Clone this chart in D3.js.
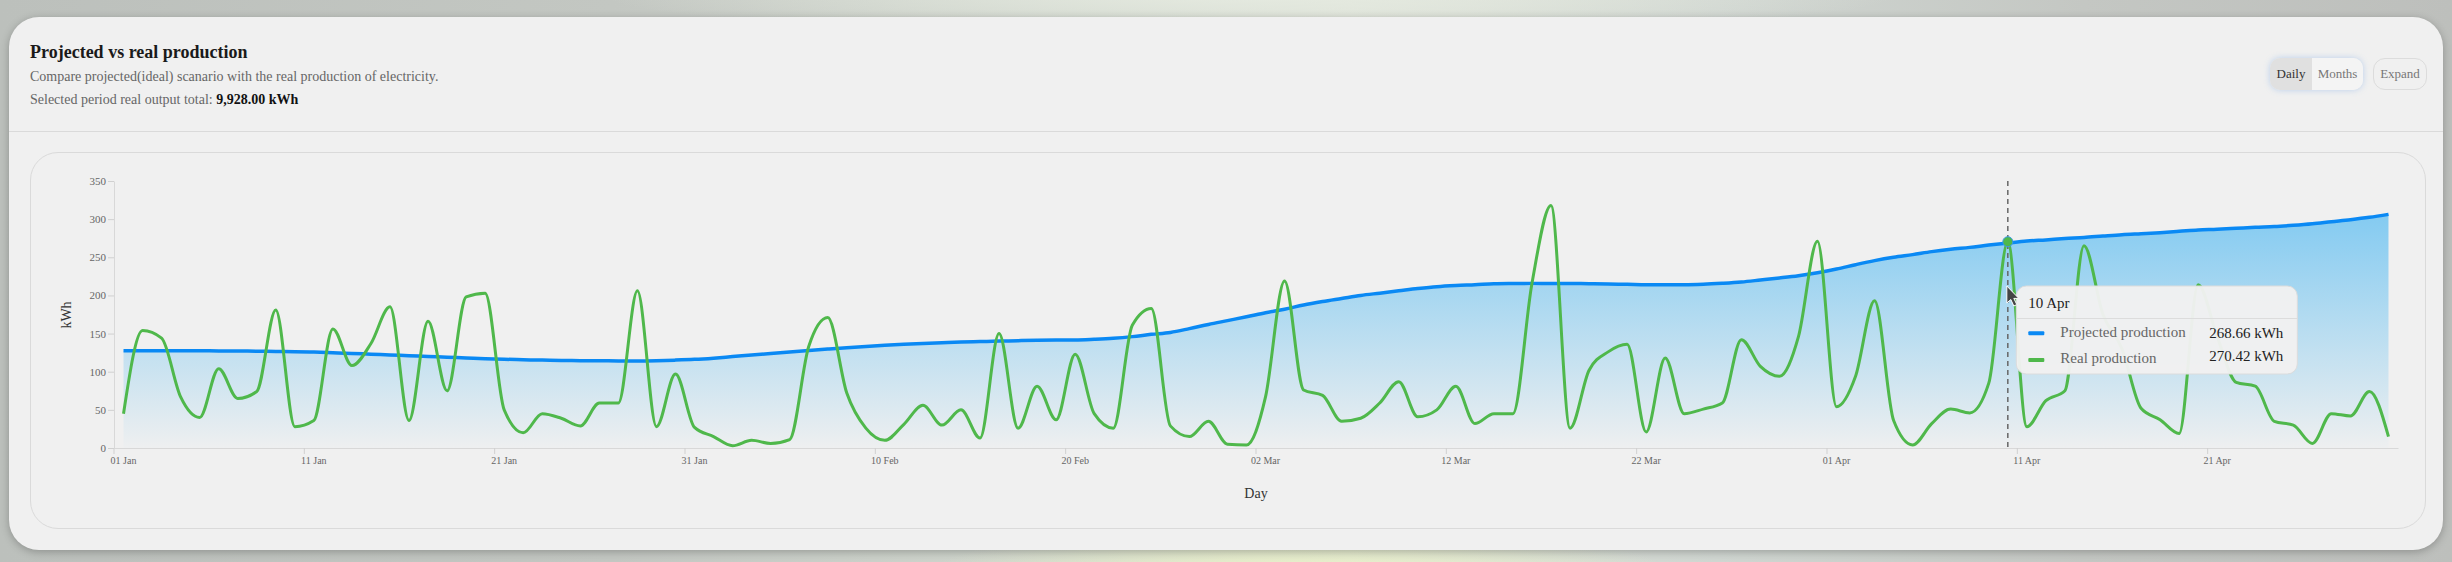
<!DOCTYPE html>
<html>
<head>
<meta charset="utf-8">
<script src="https://cdn.jsdelivr.net/npm/d3@7"></script>
<style>
html, body { margin: 0; padding: 0; }
body {
  width: 2452px; height: 562px; overflow: hidden; position: relative;
  font-family: "Liberation Serif", serif;
  background:
    radial-gradient(ellipse 380px 60px at 1300px 580px, rgba(236,243,196,0.95), rgba(236,243,196,0) 100%),
    radial-gradient(ellipse 650px 40px at 1250px -5px, rgba(230,235,225,0.9), rgba(230,235,225,0)),
    linear-gradient(to right, #bcc0bc 0%, #c3c7c2 25%, #d2d8cf 45%, #dde2d8 55%, #d0d6d1 70%, #c4c7c3 85%, #bdbfbc 100%);
}
.card {
  position: absolute; left: 9px; top: 17px; width: 2434px; height: 533px;
  background: #f0f0f0; border-radius: 30px;
  box-shadow: 0 2px 8px rgba(0,0,0,0.25);
}
.divider { position: absolute; left: 0; right: 0; top: 114px; height: 1px; background: #dadada; }
.inner {
  position: absolute; left: 30px; top: 152px; width: 2394px; height: 375px;
  border: 1px solid #dadada; border-radius: 28px;
}
.seg {
  position: absolute; left: 2270px; top: 58px; width: 93px; height: 32px;
  border-radius: 10px; overflow: hidden; display: flex;
  box-shadow: 0 0 6px rgba(90,150,230,0.35);
  font-size: 13px; line-height: 32px;
}
.seg div { text-align: center; }
.seg .on { width: 42px; background: #e0e0e0; color: #333; }
.seg .off { flex: 1; background: #f4f4f4; color: #777; }
.btn {
  position: absolute; left: 2373px; top: 58px; width: 52px; height: 30px;
  border: 1px solid #dcdcdc; border-radius: 12px; background: #f0f0f0;
  color: #777; font-size: 13px; line-height: 30px; text-align: center;
}
svg { position: absolute; left: 0; top: 0; }
</style>
</head>
<body>
<div class="card"><div class="divider"></div></div>
<div class="inner"></div>
<div class="seg"><div class="on">Daily</div><div class="off">Months</div></div>
<div class="btn">Expand</div>
<svg id="chart" width="2452" height="562"></svg>
<script>
// categories: one per day, 01 Jan - 30 Apr
const days = d3.utcDays(new Date(Date.UTC(2023, 0, 1)), new Date(Date.UTC(2023, 4, 1)));

const projected = [
  127.6, 127.6, 127.5, 127.5, 127.4, 127.3, 127.1, 126.9, 126.6, 126.3,
  125.7, 124.9, 124, 123, 122, 121, 120, 119, 118, 117,
  116.3, 115.7, 115.2, 114.8, 114.5, 114.3, 114.2, 114.2, 114.5, 115.2,
  116.2, 117.8, 119.8, 121.8, 123.8, 125.8, 127.8, 129.7, 131.5, 133.2,
  134.7, 136, 137.1, 138, 138.8, 139.5, 140.1, 140.7, 141.3, 141.5,
  141.6, 142.5, 143.8, 146, 149, 151.5, 156.5, 162, 167, 172,
  177.4, 182, 187.5, 192, 196, 200, 203, 206, 209, 211.5,
  213, 214, 215.2, 215.6, 215.8, 215.8, 215.6, 215.4, 215, 214.6,
  214.1, 214, 214, 214.6, 215.9, 217.6, 220.2, 222.9, 225.9, 229.8,
  234.6, 240.3, 245.6, 250, 253.5, 257.4, 260.5, 263, 266, 268.66,
  271.2, 272.8, 274.6, 276, 277.9, 279.7, 281, 282.3, 284, 285.8,
  286.7, 288, 289.3, 290.2, 291.9, 294, 296.7, 299.3, 302.4, 306.3
];

const real = [
  45, 154, 144, 67, 40, 104, 65, 74, 181, 28,
  36, 156, 108, 137, 185, 36, 166, 75, 198, 203,
  50, 20, 45, 39, 29, 59, 59, 206, 28, 97,
  27, 15, 3, 10, 6, 11, 133, 171, 72, 26,
  10, 31, 56, 30, 50, 13, 150, 26, 81, 37,
  123, 45, 26, 161, 183, 29, 15, 35, 5, 4,
  67, 219, 76, 69, 35, 39, 59, 87, 41, 50,
  81, 32, 45, 45, 216, 318, 26, 102, 126, 136,
  21, 118, 45, 51, 59, 142, 107, 94, 146, 271,
  54, 94, 193, 36, 4, 32, 51, 46, 85, 270.42,
  28, 62, 75, 265, 175, 130, 52, 37, 19, 214,
  146, 86, 81, 35, 30, 6, 45, 42, 74, 15
];

const yTicks = [0, 50, 100, 150, 200, 250, 300, 350];
const xTickEvery = 10;
const seriesNames = ["Projected production", "Real production"];
const seriesColors = ["#0a89f4", "#4fb84b"];
const selectedTotal = "9,928.00 kWh";
const hoverIndex = 99;

const svg = d3.select("#chart");
const serif = "Liberation Serif, serif";

// header
svg.append("text").attr("x", 30).attr("y", 58)
  .attr("font-family", serif).attr("font-size", 18).attr("font-weight", "bold")
  .attr("fill", "#1a1a1a").text("Projected vs real production");
svg.append("text").attr("x", 30).attr("y", 81)
  .attr("font-family", serif).attr("font-size", 14).attr("fill", "#666")
  .text("Compare projected(ideal) scanario with the real production of electricity.");
const tot = svg.append("text").attr("x", 30).attr("y", 104)
  .attr("font-family", serif).attr("font-size", 14);
tot.append("tspan").attr("fill", "#666").text("Selected period real output total: ");
tot.append("tspan").attr("fill", "#111").attr("font-weight", "bold").text(selectedTotal);

// scales
const x = d3.scaleBand().domain(days).range([114, 2398]);
const bw = x.bandwidth();
const cx = d => x(d) + bw / 2;
const y = d3.scaleLinear().domain([0, 350]).range([448, 181]);

const rows = days.map((d, i) => ({ date: d, p: projected[i], r: real[i] }));

// gradient for the projected area
const defs = svg.append("defs");
const grad = defs.append("linearGradient").attr("id", "projFill")
  .attr("x1", 0).attr("y1", 0).attr("x2", 0).attr("y2", 1);
grad.append("stop").attr("offset", 0).attr("stop-color", "#1fa8f2").attr("stop-opacity", 0.52);
grad.append("stop").attr("offset", 1).attr("stop-color", "#1fa8f2").attr("stop-opacity", 0.01);

// axes
const yAxis = svg.append("g").attr("transform", "translate(114,0)")
  .call(d3.axisLeft(y).tickValues(yTicks).tickSize(6).tickSizeOuter(0).tickPadding(2));
yAxis.selectAll("text").attr("font-family", serif).attr("font-size", 11).attr("fill", "#666");

const xAxis = svg.append("g").attr("transform", "translate(0,448)")
  .call(d3.axisBottom(x)
    .tickValues(days.filter((d, i) => i % xTickEvery === 0))
    .tickFormat(d3.utcFormat("%d %b"))
    .tickSize(6).tickSizeOuter(0).tickPadding(3));
xAxis.selectAll(".tick line").attr("x1", -bw / 2).attr("x2", -bw / 2);
xAxis.selectAll("text").attr("font-family", serif).attr("font-size", 10).attr("fill", "#666");

svg.selectAll(".domain").attr("stroke", "#d8d8d8");
svg.selectAll(".tick line").attr("stroke", "#d0d0d0");

// axis titles
svg.append("text").attr("transform", "translate(71,315) rotate(-90)")
  .attr("text-anchor", "middle").attr("font-family", serif).attr("font-size", 14)
  .attr("fill", "#333").text("kWh");
svg.append("text").attr("x", (114 + 2398) / 2).attr("y", 498)
  .attr("text-anchor", "middle").attr("font-family", serif).attr("font-size", 14)
  .attr("fill", "#333").text("Day");

// projected area + line
svg.append("path").datum(rows)
  .attr("fill", "url(#projFill)")
  .attr("d", d3.area().x(d => cx(d.date)).y0(y(0)).y1(d => y(d.p)).curve(d3.curveMonotoneX));
svg.append("path").datum(rows)
  .attr("fill", "none").attr("stroke", seriesColors[0]).attr("stroke-width", 3.5)
  .attr("d", d3.line().x(d => cx(d.date)).y(d => y(d.p)).curve(d3.curveMonotoneX));

// real line
svg.append("path").datum(rows)
  .attr("fill", "none").attr("stroke", seriesColors[1]).attr("stroke-width", 3)
  .attr("stroke-linejoin", "round")
  .attr("d", d3.line().x(d => cx(d.date)).y(d => y(d.r)).curve(d3.curveMonotoneX));

// hover marker
const hx = cx(days[hoverIndex]);
svg.append("line").attr("x1", hx).attr("x2", hx).attr("y1", 181).attr("y2", 448)
  .attr("stroke", "#666").attr("stroke-width", 1.5).attr("stroke-dasharray", "5,4");
svg.append("circle").attr("cx", hx).attr("cy", y(real[hoverIndex])).attr("r", 5)
  .attr("fill", seriesColors[1]).attr("stroke", "#3a9be8").attr("stroke-width", 1);

// tooltip
const fmt = d3.format(",.2f");
const tip = svg.append("g").attr("transform", `translate(${hx + 8.5},286)`);
tip.append("rect").attr("width", 281).attr("height", 88).attr("rx", 10)
  .attr("fill", "#f1f1f1").attr("fill-opacity", 0.97).attr("stroke", "#dcdcdc");
tip.append("line").attr("x1", 0).attr("x2", 281).attr("y1", 32.5).attr("y2", 32.5)
  .attr("stroke", "#dcdcdc");
tip.append("text").attr("x", 12).attr("y", 21.7).attr("font-family", serif)
  .attr("font-size", 15).attr("fill", "#222").text(d3.utcFormat("%d %b")(days[hoverIndex]));
const tipVals = [projected[hoverIndex], real[hoverIndex]];
const rowY = [{ sw: 47.3, lab: 50.7, val: 52.3 }, { sw: 74, lab: 77.4, val: 74.7 }];
seriesNames.forEach((name, k) => {
  tip.append("rect").attr("x", 12).attr("y", rowY[k].sw - 2).attr("width", 16).attr("height", 4)
    .attr("rx", 1).attr("fill", seriesColors[k]);
  tip.append("text").attr("x", 44).attr("y", rowY[k].lab).attr("font-family", serif)
    .attr("font-size", 15).attr("fill", "#666").text(name);
  tip.append("text").attr("x", 267).attr("y", rowY[k].val).attr("text-anchor", "end")
    .attr("font-family", serif).attr("font-size", 15).attr("fill", "#222")
    .text(fmt(tipVals[k]) + " kWh");
});

// mouse pointer
svg.append("path").attr("transform", `translate(${hx - 1},286)`)
  .attr("d", "M0,0 L0,17 L4,13.5 L7,20 L10,18.6 L7,12.4 L12,12.4 Z")
  .attr("fill", "#444").attr("stroke", "#fff").attr("stroke-width", 1);
</script>
</body>
</html>
